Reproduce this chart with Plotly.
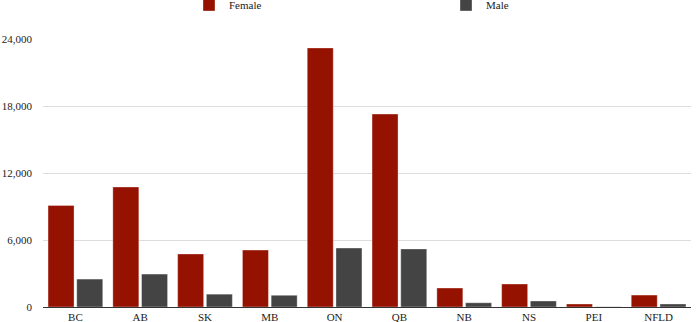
import plotly.graph_objects as go

provinces = ["BC", "AB", "SK", "MB", "ON", "QB", "NB", "NS", "PEI", "NFLD"]
female = [9100, 10750, 4750, 5100, 23200, 17280, 1700, 2060, 270, 1070]
male = [2500, 2950, 1150, 1050, 5280, 5200, 380, 540, 20, 270]
y_ticks = [0, 6000, 12000, 18000, 24000]

FONT = "Times New Roman"

fig = go.Figure()
fig.add_trace(go.Bar(name="Female", x=provinces, y=female, legend="legend",
                     marker=dict(color="#961200", line=dict(color="rgba(255,255,255,0.35)", width=1))))
fig.add_trace(go.Bar(name="Male", x=provinces, y=male, legend="legend2",
                     marker=dict(color="#444444", line=dict(color="rgba(255,255,255,0.35)", width=1))))

leg_common = dict(orientation="h", xref="container", yref="container", yanchor="middle",
                  y=1 - 5 / 322, xanchor="left", font=dict(family=FONT, size=11, color="#222222"),
                  bgcolor="rgba(0,0,0,0)", itemwidth=30)

fig.update_layout(
    width=700, height=322,
    margin=dict(l=43, r=9, t=39, b=15, autoexpand=False),
    paper_bgcolor="white", plot_bgcolor="white",
    font=dict(family=FONT, size=11, color="#222222"),
    barmode="group", bargap=0.114, bargroupgap=0.094,
    showlegend=True,
    legend=dict(x=189 / 700, **leg_common),
    legend2=dict(x=446 / 700, **leg_common),
    xaxis=dict(showline=True, linecolor="#333333", linewidth=1, ticks="",
               automargin=False, tickfont=dict(family=FONT, size=11), showgrid=False),
    yaxis=dict(range=[0, 24000], tickvals=y_ticks, tickformat=",d",
               gridcolor="#dddddd", gridwidth=1, zeroline=False, showline=False,
               automargin=False, ticklabelstandoff=10,
               tickfont=dict(family=FONT, size=11)),
)

fig.write_html("out.html")
